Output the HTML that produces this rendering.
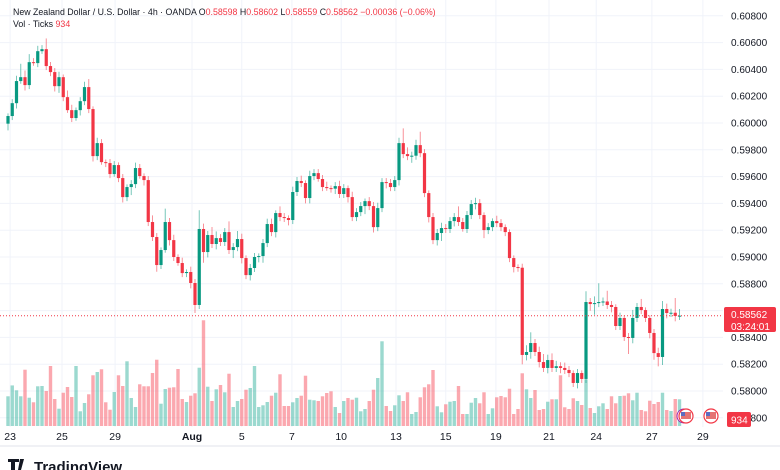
<!DOCTYPE html>
<html><head><meta charset="utf-8">
<style>
html,body{margin:0;padding:0;background:#fff;width:780px;height:470px;overflow:hidden;font-family:"Liberation Sans",sans-serif}
svg{display:block}
</style></head>
<body>
<svg id="chart" width="780" height="470" xmlns="http://www.w3.org/2000/svg">
<g id="grid"></g>
<g id="vol"></g>
<g id="candles"></g>
<line x1="0" y1="315.7" x2="723" y2="315.7" stroke="#F23645" stroke-width="1" stroke-dasharray="1,2"/>
<g id="yaxis" font-size="10" fill="#131722"></g>
<g id="xaxis" font-size="10.5" fill="#131722"></g>
<line x1="0" y1="446" x2="780" y2="446" stroke="#e0e3eb"/>
<g>
<rect x="724" y="307" width="52" height="25" rx="2" fill="#F23645"/>
<text x="731" y="318" font-size="10" fill="#fff">0.58562</text>
<text x="731" y="330" font-size="10" fill="#fff">03:24:01</text>
</g>
<g>
<rect x="727" y="412" width="24" height="15" rx="2" fill="#F23645"/>
<text x="731" y="423.5" font-size="10" fill="#fff">934</text>
</g>
<g>
<circle cx="684" cy="416" r="7" fill="#fff" stroke="#9c27b0" stroke-width="1"/>
<circle cx="686" cy="416" r="7" fill="#fff" stroke="#F23645" stroke-width="1.2"/>
<rect x="681" y="412" width="10" height="7" fill="#e57373"/><rect x="681" y="412" width="4" height="4" fill="#5c6bc0"/>
</g>
<g>
<circle cx="711" cy="416" r="7" fill="#fff" stroke="#F23645" stroke-width="1.2"/>
<rect x="706" y="412" width="10" height="7" fill="#e57373"/><rect x="706" y="412" width="4" height="4" fill="#5c6bc0"/>
</g>
<g font-size="8.8">
<text x="13" y="15" fill="#131722">New Zealand Dollar / U.S. Dollar · 4h · OANDA  <tspan fill="#131722">O</tspan><tspan fill="#F23645">0.58598</tspan>  <tspan fill="#131722">H</tspan><tspan fill="#F23645">0.58602</tspan>  <tspan fill="#131722">L</tspan><tspan fill="#F23645">0.58559</tspan>  <tspan fill="#131722">C</tspan><tspan fill="#F23645">0.58562  −0.00036 (−0.06%)</tspan></text>
<text x="13" y="27" fill="#131722">Vol · Ticks  <tspan fill="#F23645">934</tspan></text>
</g>
<g>
<path d="M8 459h11v3h-4v8h-4v-8h-3z M20 459h4l-3 11h-3z" fill="#131722"/>
<text x="34" y="472" font-size="15" font-weight="bold" fill="#131722">TradingView</text>
</g>
</svg>
<script>
const closes=[0.60052,0.60148,0.60313,0.60342,0.60283,0.60454,0.60447,0.60536,0.60551,0.60425,0.60380,0.60275,0.60342,0.60193,0.60096,0.60037,0.60096,0.60163,0.60268,0.60104,0.59753,0.59850,0.59708,0.59701,0.59619,0.59686,0.59589,0.59447,0.59522,0.59544,0.59664,0.59604,0.59574,0.59261,0.59149,0.58940,0.59052,0.59261,0.59126,0.59000,0.58955,0.58880,0.58888,0.58806,0.58642,0.59209,0.59037,0.59164,0.59097,0.59141,0.59112,0.59186,0.59052,0.59074,0.59134,0.58992,0.58865,0.58918,0.59000,0.59007,0.59104,0.59246,0.59186,0.59328,0.59298,0.59291,0.59276,0.59485,0.59567,0.59552,0.59440,0.59604,0.59626,0.59582,0.59522,0.59514,0.59510,0.59529,0.59470,0.59514,0.59447,0.59298,0.59335,0.59380,0.59417,0.59380,0.59223,0.59365,0.59559,0.59552,0.59522,0.59574,0.59850,0.59768,0.59753,0.59756,0.59835,0.59775,0.59477,0.59298,0.59126,0.59179,0.59216,0.59209,0.59268,0.59298,0.59261,0.59209,0.59313,0.59395,0.59402,0.59313,0.59201,0.59223,0.59268,0.59253,0.59223,0.59186,0.58992,0.58925,0.58920,0.58269,0.58291,0.58358,0.58291,0.58216,0.58172,0.58231,0.58172,0.58185,0.58172,0.58157,0.58134,0.58060,0.58134,0.58090,0.58664,0.58649,0.58656,0.58664,0.58668,0.58642,0.58627,0.58485,0.58545,0.58403,0.58396,0.58545,0.58627,0.58604,0.58545,0.58433,0.58283,0.58254,0.58612,0.58582,0.58584,0.58560,0.58562];
const firstOpen=0.59995;
const upWick=[2,3,4,10,5,6,3,4,3,8,3,3,4,2,5,4,2,3,4,6,2,4,3,2,3,3,2,3,2,3,4,3,2,3,5,3,2,10,3,4,2,4,2,4,3,14,4,3,6,5,3,3,8,3,6,4,2,3,3,2,3,4,4,2,5,3,2,4,3,4,2,4,3,3,3,4,2,3,4,3,2,4,3,3,2,3,3,4,3,3,3,3,4,11,5,3,4,10,3,2,3,3,4,3,3,3,8,3,3,3,4,3,2,3,2,4,3,2,2,2,2,3,5,8,3,4,6,4,5,4,3,4,3,2,3,2,8,3,5,14,3,8,3,2,4,2,3,6,3,6,2,2,3,4,6,4,3,11,5];
const dnWick=[5,3,4,2,4,3,2,3,2,3,3,4,5,3,2,3,2,4,3,3,4,3,2,3,3,2,3,4,3,6,3,2,4,3,3,5,3,2,4,3,2,3,3,4,6,3,8,4,3,4,3,3,3,6,3,4,3,4,3,4,5,3,3,4,3,3,4,3,3,3,4,4,3,2,3,2,3,4,3,3,4,3,3,3,6,3,4,3,3,4,3,3,4,3,3,5,3,3,3,4,3,4,6,3,3,4,3,2,3,3,4,3,6,3,3,3,3,3,3,4,3,7,4,5,3,4,3,4,3,3,4,3,3,3,4,3,3,5,8,3,3,3,4,3,3,3,12,4,3,3,3,4,5,7,6,4,3,4,3];
const volumes=[1040,1420,1250,1040,1970,990,830,1390,1400,1225,2100,945,605,1165,1365,1015,2100,515,805,1110,1775,1890,1985,830,570,1190,1775,1400,2265,980,665,1460,1390,1390,1855,2320,780,1295,1340,1355,1995,945,840,1060,1145,2040,3700,1375,875,1285,1435,1180,1830,665,875,945,1270,1330,2100,665,725,840,1060,1165,1810,700,700,830,980,1060,1760,920,900,875,1040,1155,1215,665,455,875,980,920,990,515,595,875,1270,1680,2965,700,525,725,1075,875,1180,420,490,1005,1355,1460,1960,690,480,760,850,875,1400,420,420,815,980,795,1180,420,620,1005,1050,1005,1305,420,595,1845,1285,980,1260,560,595,850,935,935,1775,655,595,970,875,735,1635,630,455,690,795,595,1040,795,1050,1060,1145,900,1165,560,515,885,770,840,1165,560,525,945,934];
const priceTicks=[0.608,0.606,0.604,0.602,0.600,0.598,0.596,0.594,0.592,0.590,0.588,0.586,0.584,0.582,0.580,0.578];
const dateLabels=["23","25","29","Aug","5","7","10","13","15","19","21","24","27","29"];
const dateIdx=[0.5,12.7,25.2,43.3,55,66.8,78.4,91.3,103,114.8,127.3,138.4,151.5,163.5];

const NS="http://www.w3.org/2000/svg";
const xOf=i=>8+i*4.25;
const yOf=p=>391-(p-0.58)*13400;
const vH=v=>v/35;
const PIP=0.0001;
function mk(tag,attrs,parent){const e=document.createElementNS(NS,tag);for(const k in attrs)e.setAttribute(k,attrs[k]);parent.appendChild(e);return e;}
const grid=document.getElementById('grid'),yax=document.getElementById('yaxis'),xax=document.getElementById('xaxis');
priceTicks.forEach(p=>{
  const y=yOf(p);
  const gl=mk('line',{x1:0,x2:723,y1:y,y2:y,stroke:'#f0f3fa'},grid);
  
  
  const t=mk('text',{x:731,y:y+3.5},yax);
  t.textContent=p.toFixed(5);
  
  
});
dateLabels.forEach((d,k)=>{
  const x=xOf(dateIdx[k]);
  const gl=mk('line',{x1:x,x2:x,y1:0,y2:427,stroke:'#f0f3fa'},grid);
  
  
  const t=mk('text',{x:x,y:440,'text-anchor':'middle'},xax);
  if(d==='Aug')t.setAttribute('font-weight','bold');
  t.textContent=d;
  
  
});
const cg=document.getElementById('candles'),vg=document.getElementById('vol');
closes.forEach((c,i)=>{
  const o=i===0?firstOpen:closes[i-1];
  const up=c>=o;
  const col=up?'#089981':'#F23645';
  const hi=Math.max(o,c)+(upWick[i]||2)*PIP, lo=Math.min(o,c)-(dnWick[i]||2)*PIP;
  const x=xOf(i);
  const w=mk('line',{x1:x,x2:x,y1:yOf(hi),y2:yOf(lo),stroke:col,'stroke-width':1,'stroke-opacity':0.55},cg);
  
  
  const yt=yOf(Math.max(o,c)),yb=yOf(Math.min(o,c));
  const b=mk('rect',{x:x-1.6,y:yt,width:3.2,height:Math.max(1,yb-yt),fill:col},cg);
  
  
  const h=vH(volumes[i]||0);
  const vb=mk('rect',{x:x-1.7,y:426-h,width:3.4,height:h,fill:up?'rgba(34,171,148,0.45)':'rgba(247,82,95,0.5)'},vg);
  
  
});
</script>
</body></html>
